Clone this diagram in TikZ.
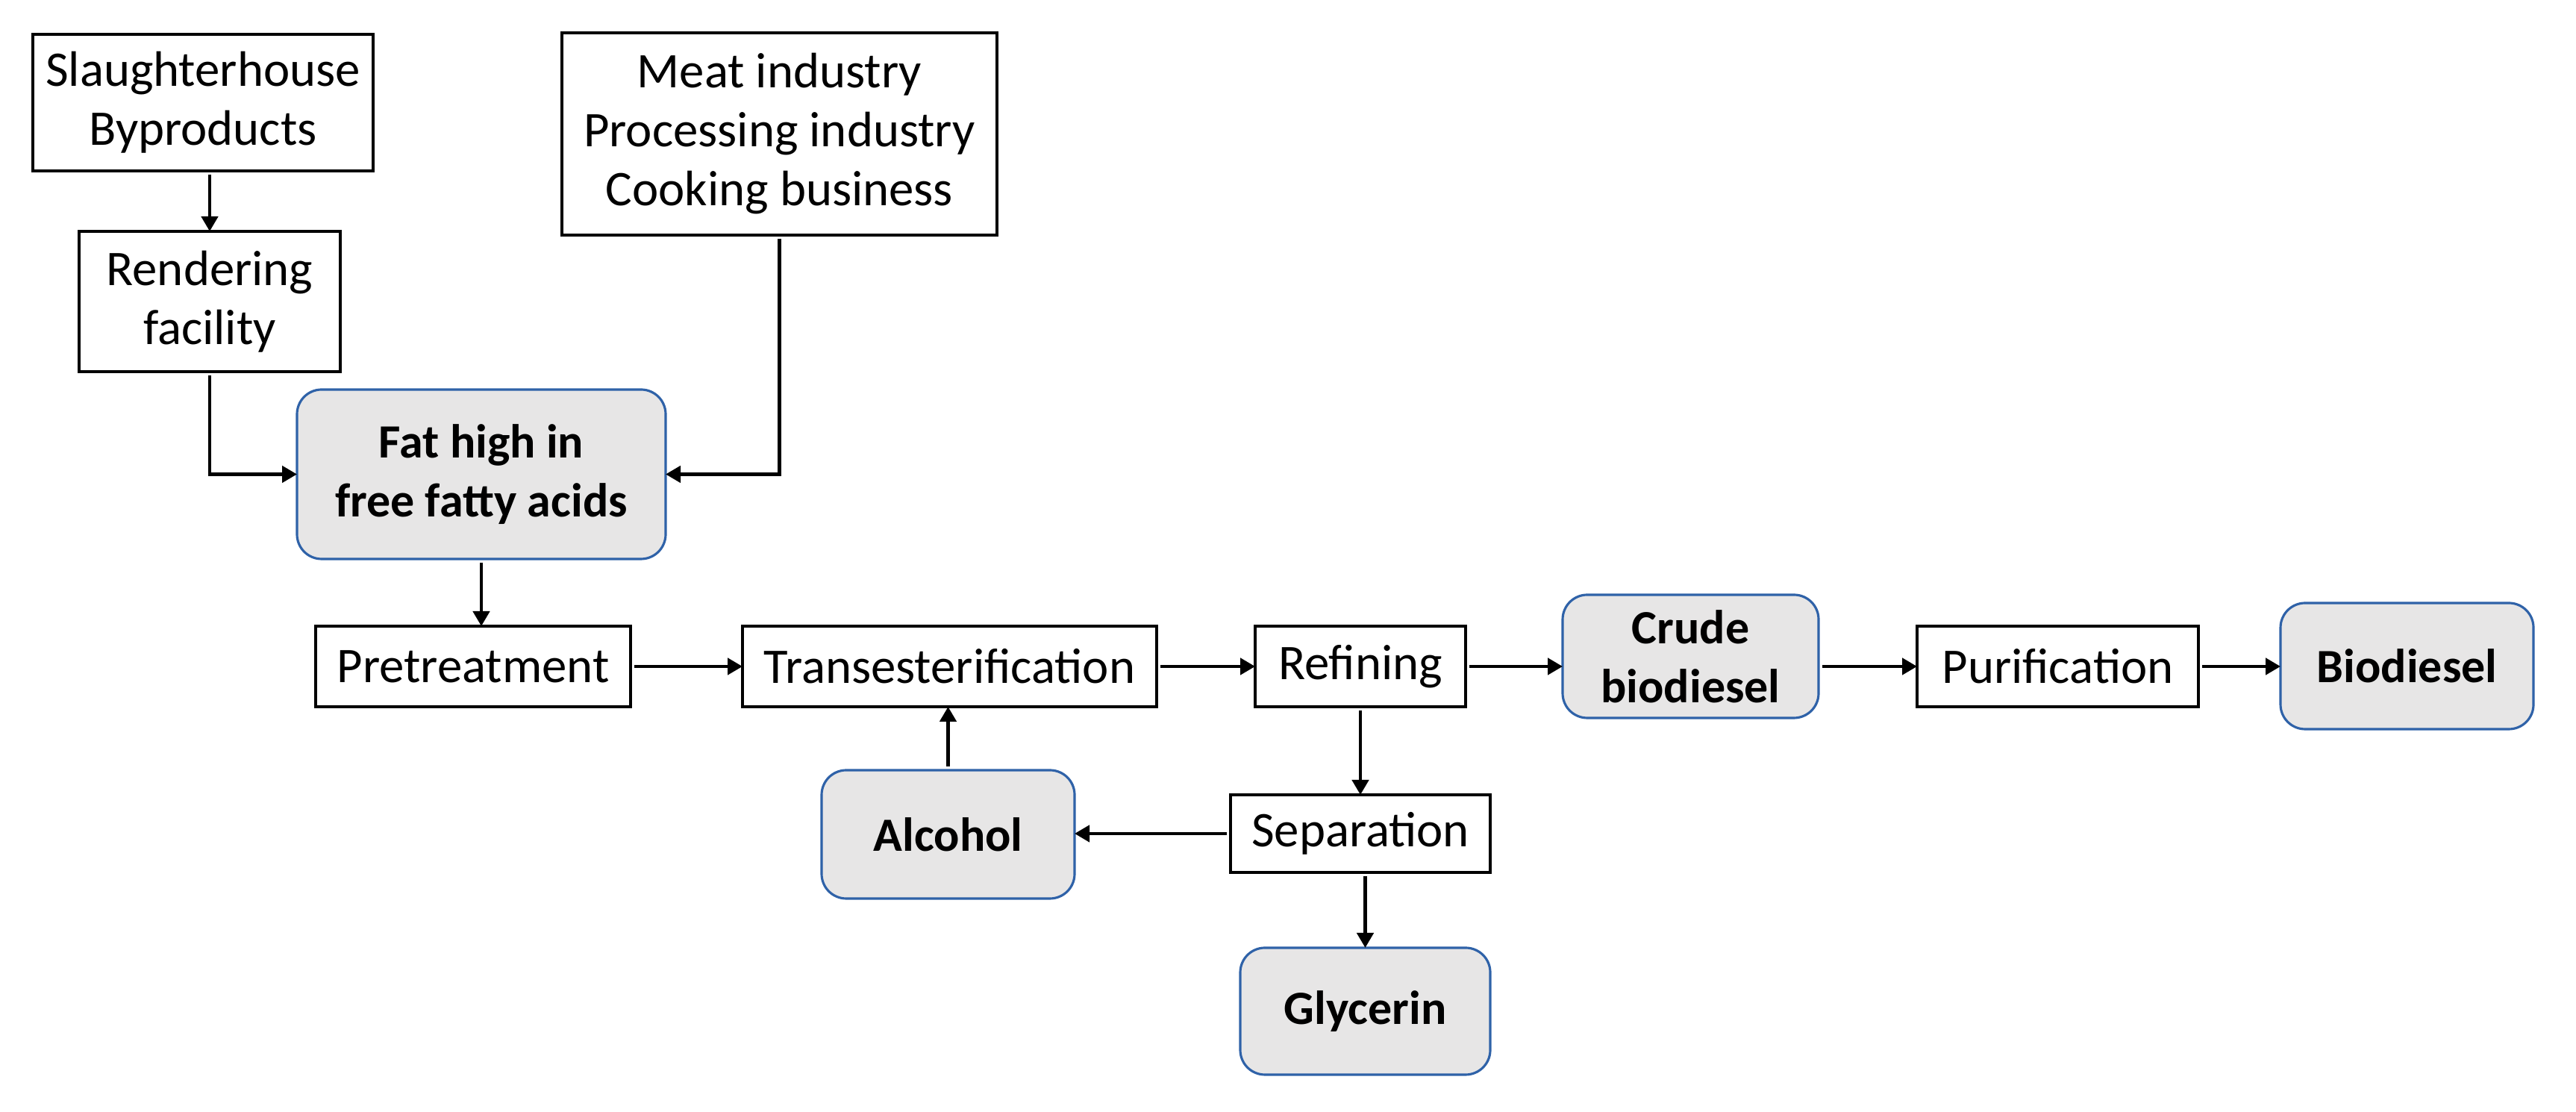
\documentclass[tikz,border=0pt]{standalone}
\usepackage{fontspec}
\setmainfont{Carlito}
\usepackage{tikz}
\usetikzlibrary{arrows,arrows.meta,shapes,positioning}
\definecolor{prodfill}{HTML}{E7E6E6}
\definecolor{prodline}{HTML}{2F62A8}

\begin{document}
\begin{tikzpicture}[font=\fontsize{19}{22.5}\selectfont]
\tikzstyle{procbox} = [rectangle, draw, line width=1pt, inner sep=0pt, outer sep=0pt, align=center];%
\tikzstyle{prodbox} = [rectangle, draw=prodline, fill=prodfill, line width=0.9pt, rounded corners=3.3mm, inner sep=0pt, outer sep=0pt, align=center, font=\fontsize{18.2}{22.5}\selectfont\bfseries];%
\tikzstyle{flow} = [-{Triangle[length=2mm,width=2.2mm]}, line width=1.3pt, shorten <=0.5mm];%
\useasboundingbox (0,0) rectangle (34.52,14.90);

\node at (2.72,13.525) [procbox, minimum width=4.56cm, minimum height=1.83cm] (slaughter) {Slaughterhouse\\Byproducts};
\node at (2.81,10.86)  [procbox, minimum width=3.50cm, minimum height=1.88cm] (render) {Rendering\\facility};
\node at (10.445,13.105) [procbox, minimum width=5.83cm, minimum height=2.71cm] (industry) {Meat industry\\Processing industry\\Cooking business};
\node at (6.45,8.545)  [prodbox, minimum width=4.94cm, minimum height=2.27cm] (fat) {Fat high in\\free fatty acids};
\node at (6.34,5.97)   [procbox, minimum width=4.22cm, minimum height=1.08cm] (pretreat) {Pretreatment};
\node at (12.725,5.97) [procbox, minimum width=5.55cm, minimum height=1.08cm] (trans) {Transesterification};
\node at (18.23,5.97)  [procbox, minimum width=2.82cm, minimum height=1.08cm] (refine) {Refining};
\node at (22.655,6.105) [prodbox, minimum width=3.43cm, minimum height=1.65cm] (crude) {Crude\\biodiesel};
\node at (27.575,5.97) [procbox, minimum width=3.77cm, minimum height=1.08cm] (purify) {Purification};
\node at (32.255,5.975) [prodbox, minimum width=3.39cm, minimum height=1.69cm] (biodiesel) {Biodiesel};
\node at (12.705,3.72) [prodbox, minimum width=3.39cm, minimum height=1.72cm] (alcohol) {Alcohol};
\node at (18.23,3.73)  [procbox, minimum width=3.48cm, minimum height=1.04cm] (separate) {Separation};
\node at (18.295,1.35) [prodbox, minimum width=3.35cm, minimum height=1.70cm] (glycerin) {Glycerin};

\draw[flow] (slaughter.south -| render.north) -- (render.north);
\draw[flow] (render.south) |- (fat.west);
\draw[flow] (industry.south) |- (fat.east);
\draw[flow] (fat.south) -- (fat.south |- pretreat.north);
\draw[flow] (pretreat.east) -- (trans.west);
\draw[flow] (trans.east) -- (refine.west);
\draw[flow] (refine.east) -- (refine.east -| crude.west);
\draw[flow] (crude.east |- purify.west) -- (purify.west);
\draw[flow] (purify.east) -- (purify.east -| biodiesel.west);
\draw[flow] (alcohol.north) -- (alcohol.north |- trans.south);
\draw[flow] (refine.south) -- (separate.north);
\draw[flow] (separate.west) -- (separate.west -| alcohol.east);
\draw[flow] (glycerin.north |- separate.south) -- (glycerin.north);

\end{tikzpicture}
\end{document}
